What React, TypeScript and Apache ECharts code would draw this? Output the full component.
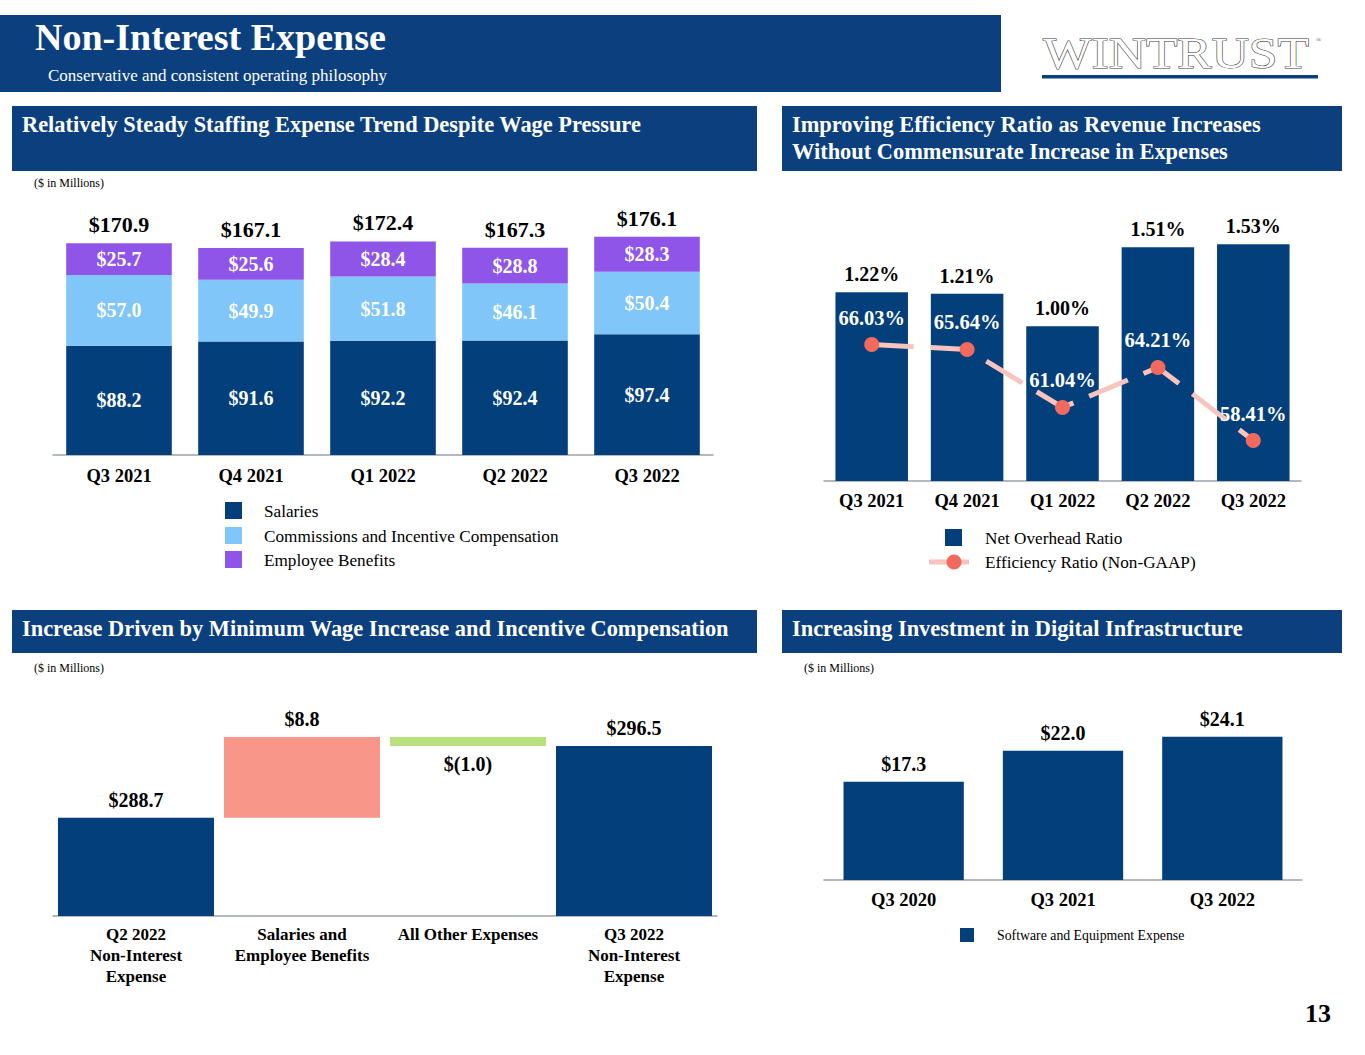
import React, { useEffect, useRef } from "react";
import * as echarts from "echarts";

// ---- data ----
const staffQuarters = ["Q3 2021", "Q4 2021", "Q1 2022", "Q2 2022", "Q3 2022"];
const salaries = [88.2, 91.6, 92.2, 92.4, 97.4];
const commissions = [57.0, 49.9, 51.8, 46.1, 50.4];
const benefits = [25.7, 25.6, 28.4, 28.8, 28.3];

const ratioQuarters = ["Q3 2021", "Q4 2021", "Q1 2022", "Q2 2022", "Q3 2022"];
const netOverhead = [1.22, 1.21, 1.0, 1.51, 1.53];
const efficiency = [66.03, 65.64, 61.04, 64.21, 58.41];

const bridgeLabels = [
  "Q2 2022\nNon-Interest\nExpense",
  "Salaries and\nEmployee Benefits",
  "All Other Expenses",
  "Q3 2022\nNon-Interest\nExpense",
];
const bridgeValues = [288.7, 8.8, -1.0, 296.5];

const digitalQuarters = ["Q3 2020", "Q3 2021", "Q3 2022"];
const softwareExpense = [17.3, 22.0, 24.1];

// ---- styles ----
const SERIF = '"Liberation Serif", "Times New Roman", serif';
const NAVY = "#033F7B";
const BANNER = "#0B3F7E";
const LIGHT_BLUE = "#80C6F8";
const PURPLE = "#8F55E8";
const SALMON = "#F8968A";
const GREEN = "#B8E07E";
const DOT = "#F26A5D";
const DASH = "#F8C4BE";
const AXIS_GRAY = "#9CA2AA";

const money = (v: number) => "$" + v.toFixed(1);

const txt = (
  text: string,
  x: number,
  y: number,
  size: number,
  opts: any = {}
) => ({
  type: "text",
  x,
  y,
  silent: true,
  style: {
    text,
    x: 0,
    y: 0,
    fill: opts.fill || "#000",
    fontFamily: SERIF,
    fontSize: size,
    fontWeight: opts.bold ? "bold" : "normal",
    align: opts.align || "left",
    verticalAlign: "middle",
    textAlign: opts.align || "left",
    textVerticalAlign: "middle",
  },
});

const box = (x: number, y: number, w: number, h: number, fill: string) => ({
  type: "rect",
  silent: true,
  shape: { x, y, width: w, height: h },
  style: { fill },
});

const App: React.FC = () => {
  const chartRef = useRef<HTMLDivElement>(null);

  useEffect(() => {
    if (!chartRef.current) return;
    const chart = echarts.init(chartRef.current, null, { renderer: "svg" });

    const totals = salaries.map((s, i) =>
      Math.round((s + commissions[i] + benefits[i]) * 10) / 10
    );

    // waterfall helper / visible parts
    const helper: number[] = [];
    const visible: any[] = [];
    let running = 0;
    bridgeValues.forEach((v, i) => {
      const last = i === bridgeValues.length - 1;
      if (i === 0 || last) {
        helper.push(0);
        running = v;
        visible.push({
          value: v,
          itemStyle: { color: NAVY },
          label: { position: "top", formatter: money(v) },
        });
      } else if (v >= 0) {
        helper.push(running);
        visible.push({
          value: v,
          itemStyle: { color: SALMON },
          label: { position: "top", formatter: money(v) },
        });
        running += v;
      } else {
        helper.push(running + v);
        visible.push({
          value: -v,
          itemStyle: { color: GREEN },
          label: { position: "bottom", formatter: "$(" + (-v).toFixed(1) + ")" },
        });
        running += v;
      }
    });

    const catAxis = (gridIndex: number, data: string[], extra: any = {}) => ({
      type: "category",
      gridIndex,
      data,
      axisLine: { lineStyle: { color: AXIS_GRAY, width: 1.5 } },
      axisTick: { show: false },
      axisLabel: {
        color: "#000",
        fontFamily: SERIF,
        fontWeight: "bold",
        fontSize: 18.5,
        margin: 11,
        interval: 0,
        ...extra,
      },
    });

    const valAxis = (gridIndex: number, min: number, max: number) => ({
      type: "value",
      gridIndex,
      min,
      max,
      show: false,
      splitLine: { show: false },
    });

    const insideLabel = {
      show: true,
      position: "inside",
      color: "#fff",
      fontFamily: SERIF,
      fontWeight: "bold",
      fontSize: 20,
      formatter: (p: any) => money(p.value),
    };

    const topLabel = {
      show: true,
      position: "top",
      distance: 8,
      color: "#000",
      fontFamily: SERIF,
      fontWeight: "bold",
      fontSize: 20,
    };

    const option: any = {
      animation: false,
      backgroundColor: "#fff",
      grid: [
        { left: 53, top: 200, width: 660, height: 255 },
        { left: 824, top: 200, width: 477, height: 281 },
        { left: 53, top: 680, width: 664, height: 236 },
        { left: 824, top: 720, width: 478, height: 160 },
      ],
      xAxis: [
        catAxis(0, staffQuarters),
        catAxis(1, ratioQuarters, { margin: 10 }),
        catAxis(2, bridgeLabels, { fontSize: 17, lineHeight: 21, margin: 8 }),
        catAxis(3, digitalQuarters, { margin: 10 }),
      ],
      yAxis: [
        valAxis(0, 0, 205.8),
        valAxis(1, 0, 1.816),
        valAxis(1, 55.2, 77.5),
        valAxis(2, 278, 303.7),
        valAxis(3, 2.4, 26.64),
      ],
      series: [
        {
          name: "Salaries",
          type: "bar",
          xAxisIndex: 0,
          yAxisIndex: 0,
          stack: "staff",
          barWidth: "80%",
          itemStyle: { color: NAVY },
          label: insideLabel,
          data: salaries,
        },
        {
          name: "Commissions and Incentive Compensation",
          type: "bar",
          xAxisIndex: 0,
          yAxisIndex: 0,
          stack: "staff",
          itemStyle: { color: LIGHT_BLUE },
          label: insideLabel,
          data: commissions,
        },
        {
          name: "Employee Benefits",
          type: "bar",
          xAxisIndex: 0,
          yAxisIndex: 0,
          stack: "staff",
          itemStyle: { color: PURPLE },
          label: insideLabel,
          data: benefits,
        },
        {
          name: "Total",
          type: "line",
          xAxisIndex: 0,
          yAxisIndex: 0,
          symbol: "circle",
          symbolSize: 1,
          itemStyle: { color: "rgba(0,0,0,0)" },
          lineStyle: { width: 0, opacity: 0 },
          label: {
            ...topLabel,
            fontSize: 22,
            distance: 7,
            formatter: (p: any) => money(p.value),
          },
          data: totals,
          z: 5,
        },
        {
          name: "Net Overhead Ratio",
          type: "bar",
          xAxisIndex: 1,
          yAxisIndex: 1,
          barWidth: "76%",
          itemStyle: { color: NAVY },
          label: { ...topLabel, formatter: (p: any) => p.value.toFixed(2) + "%" },
          data: netOverhead,
        },
        {
          name: "Efficiency Ratio (Non-GAAP)",
          type: "line",
          xAxisIndex: 1,
          yAxisIndex: 2,
          symbol: "circle",
          symbolSize: 15,
          itemStyle: { color: DOT },
          lineStyle: { color: DASH, width: 5, type: [42, 17] },
          label: {
            ...topLabel,
            color: "#fff",
            fontSize: 20.5,
            distance: 9,
            formatter: (p: any) => p.value.toFixed(2) + "%",
          },
          data: efficiency,
          z: 5,
        },
        {
          name: "bridge-base",
          type: "bar",
          xAxisIndex: 2,
          yAxisIndex: 3,
          stack: "bridge",
          barWidth: "94%",
          itemStyle: { color: "rgba(0,0,0,0)" },
          data: helper,
        },
        {
          name: "bridge",
          type: "bar",
          xAxisIndex: 2,
          yAxisIndex: 3,
          stack: "bridge",
          label: { ...topLabel, distance: 8 },
          data: visible,
        },
        {
          name: "Software and Equipment Expense",
          type: "bar",
          xAxisIndex: 3,
          yAxisIndex: 4,
          barWidth: "75.5%",
          itemStyle: { color: NAVY },
          label: { ...topLabel, formatter: (p: any) => money(p.value) },
          data: softwareExpense,
        },
      ],
      graphic: [
        // title banner
        box(0, 15, 1001, 77, BANNER),
        txt("Non-Interest Expense", 35, 37, 38, { bold: true, fill: "#fff" }),
        txt("Conservative and consistent operating philosophy", 48, 75, 17, {
          fill: "#fff",
        }),
        // logo
        {
          type: "text",
          x: 1043,
          y: 31,
          scaleX: 1.17,
          silent: true,
          style: {
            text: "WINTRUST",
            x: 0,
            y: 0,
            fill: "#fff",
            stroke: "#3a3a3a",
            lineWidth: 1.1,
            fontFamily: SERIF,
            fontSize: 44,
            align: "left",
            verticalAlign: "top",
            textAlign: "left",
            textVerticalAlign: "top",
          },
        },
        txt("®", 1316, 40, 7, { fill: "#555" }),
        box(1042, 75, 276, 3.5, BANNER),
        // section headers
        box(12, 106, 745, 65, BANNER),
        txt(
          "Relatively Steady Staffing Expense Trend Despite Wage Pressure",
          22,
          124,
          22.4,
          { bold: true, fill: "#fff" }
        ),
        box(782, 106, 560, 65, BANNER),
        txt("Improving Efficiency Ratio as Revenue Increases", 792, 124, 22.4, {
          bold: true,
          fill: "#fff",
        }),
        txt("Without Commensurate Increase in Expenses", 792, 151, 22.4, {
          bold: true,
          fill: "#fff",
        }),
        box(12, 610, 745, 43, BANNER),
        txt(
          "Increase Driven by Minimum Wage Increase and Incentive Compensation",
          22,
          628,
          22.4,
          { bold: true, fill: "#fff" }
        ),
        box(782, 610, 560, 43, BANNER),
        txt("Increasing Investment in Digital Infrastructure", 792, 628, 22.4, {
          bold: true,
          fill: "#fff",
        }),
        txt("($ in Millions)", 34, 183, 12),
        txt("($ in Millions)", 34, 668, 12),
        txt("($ in Millions)", 804, 668, 12),
        // legend: staffing
        box(225, 502, 17, 17, NAVY),
        txt("Salaries", 264, 511, 17.2),
        box(225, 527, 17, 17, LIGHT_BLUE),
        txt("Commissions and Incentive Compensation", 264, 536, 17.2),
        box(225, 551, 17, 17, PURPLE),
        txt("Employee Benefits", 264, 560, 17.2),
        // legend: efficiency
        box(945, 529, 17, 17, NAVY),
        txt("Net Overhead Ratio", 985, 538, 17.2),
        {
          type: "line",
          silent: true,
          shape: { x1: 929, y1: 562, x2: 969, y2: 562 },
          style: { stroke: DASH, lineWidth: 5 },
        },
        {
          type: "circle",
          silent: true,
          shape: { cx: 954, cy: 562, r: 7.5 },
          style: { fill: DOT },
        },
        txt("Efficiency Ratio (Non-GAAP)", 985, 562, 17.2),
        // legend: software
        box(960, 928, 14, 14, NAVY),
        txt("Software and Equipment Expense", 997, 935, 13.8),
        // page number
        txt("13", 1318, 1013, 26, { bold: true, align: "center" }),
      ],
    };

    chart.setOption(option);

    return () => {
      chart.dispose();
    };
  }, []);

  return (
    <div
      ref={chartRef}
      style={{ position: "absolute", left: 0, top: 0, width: "1365px", height: "1055px" }}
    />
  );
};

export default App;
